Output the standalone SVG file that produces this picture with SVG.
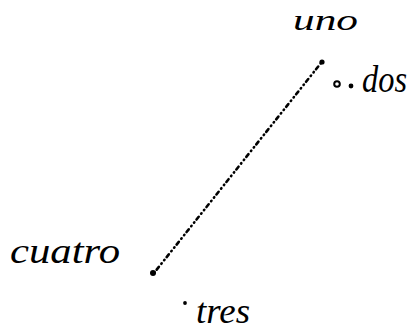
<svg xmlns="http://www.w3.org/2000/svg" width="419" height="333" viewBox="0 0 419 333">
<style>
.t{font-family:"Liberation Serif","DejaVu Serif",serif;font-style:italic;fill:#000}
.d{fill:#000}
</style>
<rect width="419" height="333" fill="#fff"/>
<g id="connectors">
<path d="M321,63 L154,273" stroke="#000" stroke-width="2.6" stroke-linecap="round" fill="none" stroke-dasharray="0.5 4 3.5 3.5 0.5 4"/>
</g>
<g id="uno">
<text class="t" x="293" y="30" font-size="30" textLength="65" lengthAdjust="spacingAndGlyphs">uno</text>
</g>
<g id="top-point"><circle class="d" cx="322" cy="62" r="2.6"/></g>
<g id="dos">
<circle cx="337" cy="84" r="2.8" fill="none" stroke="#000" stroke-width="2"/>
<circle class="d" cx="351" cy="86" r="2.4"/>
<text class="t" x="362" y="92" font-size="38" textLength="45" lengthAdjust="spacingAndGlyphs">dos</text>
</g>
<g id="cuatro">
<circle class="d" cx="153" cy="273" r="3"/>
<text class="t" x="10" y="263" font-size="36" textLength="110" lengthAdjust="spacingAndGlyphs">cuatro</text>
</g>
<g id="tres">
<circle class="d" cx="185" cy="303" r="1.9"/>
<text class="t" x="196" y="323" font-size="36" textLength="54" lengthAdjust="spacingAndGlyphs">tres</text>
</g>
</svg>
